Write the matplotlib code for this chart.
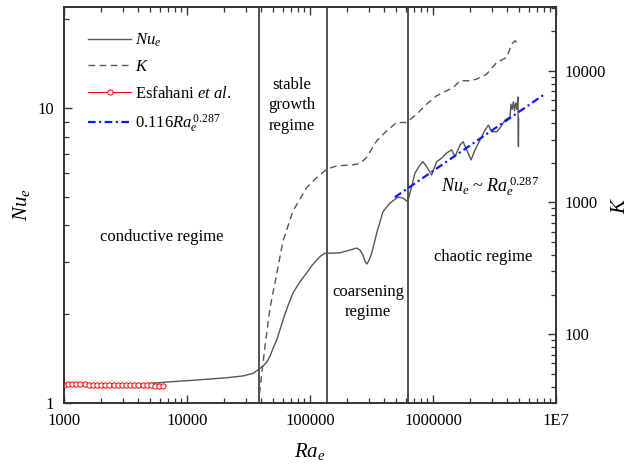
import matplotlib
matplotlib.use("Agg")
import matplotlib.pyplot as plt
from matplotlib.ticker import FixedLocator, NullFormatter, LogLocator
import numpy as np

plt.rcParams['font.family'] = ['Liberation Serif', 'DejaVu Serif']
plt.rcParams['mathtext.fontset'] = 'custom'
plt.rcParams['mathtext.rm'] = 'Liberation Serif'
plt.rcParams['mathtext.it'] = 'Liberation Serif:italic'
plt.rcParams['mathtext.bf'] = 'Liberation Serif:bold'
plt.rcParams['lines.scale_dashes'] = False

# ---------------- data ----------------
ra_nu = [5000, 7280, 10000, 15400, 21100, 28500, 34400, 39200, 42000, 44700,
         47300, 50000, 53600, 60300, 66000, 72700, 83000, 94000, 104000,
         113300, 122000, 132500, 150000, 175300, 200000, 239700, 255000,
         269800, 280000, 290500, 300000, 317500, 348600, 392000, 446700,
         518800, 570000, 622500, 650000, 714000, 783600, 829000, 888500,
         975000, 1.072e6, 1.177e6, 1.292e6, 1.419e6, 1.51e6, 1.658e6, 1.754e6,
         1.88e6, 2.04e6, 2.195e6, 2.41e6, 2.65e6, 2.82e6, 3.0e6, 3.296e6,
         3.5e6, 3.85e6, 4.23e6, 4.30e6, 4.40e6, 4.50e6, 4.60e6, 4.70e6,
         4.80e6, 4.90e6, 4.95e6, 4.97e6]
nu = [1.165, 1.18, 1.19, 1.206, 1.218, 1.235, 1.26, 1.31, 1.34, 1.38,
      1.44, 1.53, 1.635, 1.91, 2.13, 2.36, 2.58, 2.76, 2.93,
      3.05, 3.15, 3.22, 3.22, 3.23, 3.28, 3.35, 3.30,
      3.17, 3.02, 2.96, 3.03, 3.22, 3.77, 4.45, 4.76,
      4.99, 4.95, 4.81, 5.15, 6.02, 6.41, 6.58, 6.32,
      5.93, 6.58, 6.77, 7.04, 7.21, 6.84, 7.49, 7.69,
      7.21, 6.67, 7.21, 7.79, 8.42, 8.75, 8.31, 8.31,
      8.55, 9.1, 9.34, 10.3, 9.9, 10.5, 9.8, 10.4,
      9.9, 10.9, 7.4, 9.2]

ra_k = [38000, 40000, 43000, 47300, 53600, 60300, 72700, 94000, 113300,
        136700, 164800, 223800, 255000, 289000, 348600, 420000, 506700,
        611000, 736700, 888500, 1.072e6, 1.292e6, 1.462e6, 1.658e6, 2.0e6,
        2.266e6, 2.733e6, 3.296e6, 3.974e6, 4.366e6, 4.644e6, 4.937e6]
k = [29, 45, 80, 158, 286, 509, 861, 1296, 1545,
     1786, 1895, 1930, 1974, 2200, 2937, 3499, 4048,
     4048, 4690, 5585, 6460, 7050, 7470, 8400, 8400,
     8650, 9440, 11570, 12620, 15960, 16900, 15960]

ra_esf = [1000, 1080, 1170, 1260, 1360, 1470, 1590, 1720, 1860, 2010, 2170,
          2340, 2530, 2740, 2960, 3200, 3450, 3730, 4030, 4360, 4710, 5090,
          5500, 5940, 6420]
nu_esf = [1.155, 1.156, 1.16, 1.16, 1.158, 1.16, 1.15, 1.152, 1.152, 1.15,
          1.152, 1.15, 1.15, 1.148, 1.148, 1.148, 1.148, 1.148, 1.15, 1.148,
          1.148, 1.147, 1.145, 1.144, 1.144]

fit_coef = 0.116
fit_exp = 0.287
fit_ra = [4.9e5, 8.2e6]

regime_bounds = [38500, 137500, 625000]

x_ticks = [1e3, 1e4, 1e5, 1e6, 1e7]
x_labels = ["1000", "10000", "100000", "1000000", "1E7"]
nu_ticks = [1, 10]
nu_labels = ["1", "10"]
k_ticks = [100, 1000, 10000]
k_labels = ["100", "1000", "10000"]

# ---------------- figure ----------------
fig = plt.figure(figsize=(6.29, 4.71), dpi=100)
ax = fig.add_axes([64/629, 1-403/471, (556-64)/629, (403-7)/471])
ax2 = ax.twinx()

dark = '#333333'
gray = '#555555'

ax.set_xscale('log')
ax.set_yscale('log')
ax.set_xlim(1e3, 1e7)
ax.set_ylim(1, 22)
ax2.set_yscale('log')
ax2.set_ylim(30, 30500)

for xb in regime_bounds:
    ax.axvline(xb, color=dark, lw=1.2, zorder=2)

l_nu, = ax.plot(ra_nu, nu, color=gray, lw=1.0, zorder=3)
l_esf, = ax.plot(ra_esf, nu_esf, color='red', lw=0.8, marker='o', ms=3.8,
                 mfc='white', mec='red', mew=0.7, zorder=4)
fit_nu = [fit_coef * r ** fit_exp for r in fit_ra]
l_fit, = ax.plot(fit_ra, fit_nu, color='#0a1aff', lw=1.6,
                 linestyle=(0, (5.5, 2.5, 1.5, 2.5)), zorder=5)
l_k, = ax2.plot(ra_k, k, color=gray, lw=1.0, linestyle=(0, (4.8, 3.2)), zorder=3)

# ticks
ax.xaxis.set_major_locator(FixedLocator(x_ticks))
ax.set_xticklabels(x_labels)
ax.xaxis.set_minor_locator(LogLocator(base=10, subs=np.arange(2, 10), numticks=20))
ax.xaxis.set_minor_formatter(NullFormatter())
ax.yaxis.set_major_locator(FixedLocator(nu_ticks))
ax.set_yticklabels(nu_labels)
ax.yaxis.set_minor_locator(LogLocator(base=10, subs=np.arange(2, 10), numticks=20))
ax.yaxis.set_minor_formatter(NullFormatter())
ax2.yaxis.set_major_locator(FixedLocator(k_ticks))
ax2.set_yticklabels(k_labels)
ax2.yaxis.set_minor_locator(LogLocator(base=10, subs=np.arange(2, 10), numticks=20))
ax2.yaxis.set_minor_formatter(NullFormatter())

ax.tick_params(axis='x', which='both', direction='in', top=True, bottom=True,
               color=dark, labelsize=12, pad=7)
ax.tick_params(axis='y', which='both', direction='in', left=True, right=False,
               color=dark, labelsize=12, pad=7)
ax.tick_params(which='major', length=6, width=1.0)
ax.tick_params(which='minor', length=3.5, width=0.9)
ax2.tick_params(axis='y', which='both', direction='in', right=True,
                color=dark, labelsize=12, pad=6)
ax2.tick_params(which='major', length=6, width=1.0)
ax2.tick_params(which='minor', length=3.5, width=0.9)

for a in (ax, ax2):
    for s in a.spines.values():
        s.set_color(dark)
        s.set_linewidth(1.2)

ax.set_xlabel(r'$Ra_e$', fontsize=15, labelpad=9)
ax.set_ylabel(r'$Nu_e$', fontsize=15, labelpad=4)
ax2.set_ylabel(r'$K$', fontsize=15, labelpad=4)

# annotations
ax.text(6270, 3.65, 'conductive regime', fontsize=12, ha='center', va='center')
ax.text(71400, 10.2, 'stable\ngrowth\nregime', fontsize=12, ha='center',
        va='center', linespacing=1.35)
ax.text(296600, 2.2, 'coarsening\nregime', fontsize=12, ha='center',
        va='center', linespacing=1.3)
ax.text(2.55e6, 3.12, 'chaotic regime', fontsize=12, ha='center', va='center')
ax.text(2.9e6, 5.45, r'$Nu_e$ ~ $Ra_e^{\,0.287}$', fontsize=13, ha='center',
        va='center')

handles = [l_nu, l_k, l_esf, l_fit]
labels = [r'$Nu_e$', r'$K$', r'Esfahani $\mathit{et\ al.}$',
          r'0.116$Ra_e^{\,0.287}$']
leg = ax2.legend(handles, labels, loc='upper left', bbox_to_anchor=(0.035, 0.955),
                 frameon=False, fontsize=12, handlelength=2.6,
                 handletextpad=0.25, labelspacing=0.62, borderaxespad=0)

fig.savefig('out.png', dpi=100)
